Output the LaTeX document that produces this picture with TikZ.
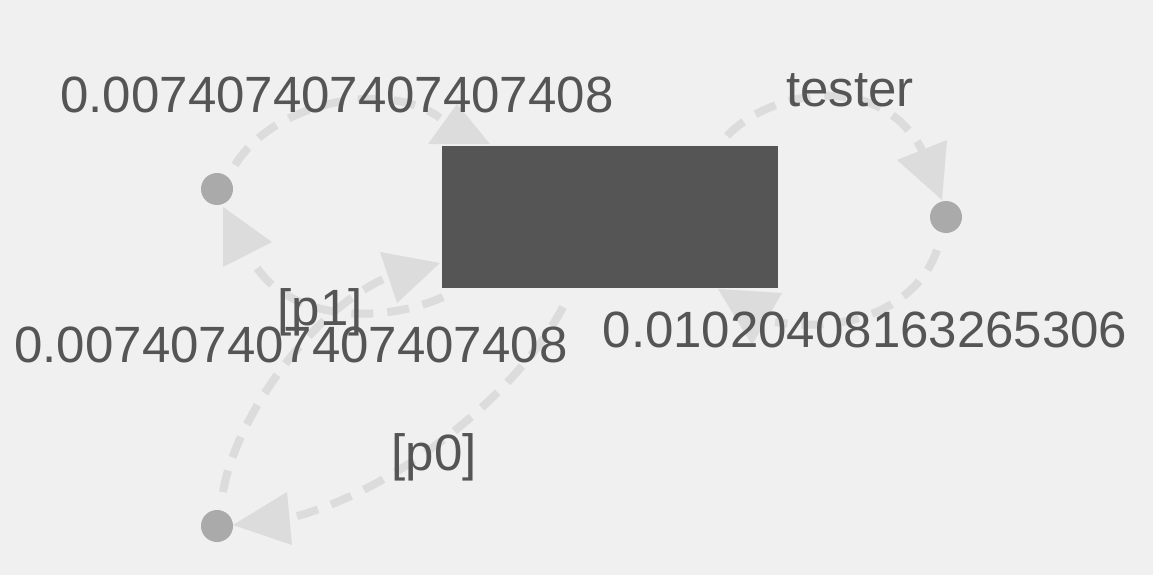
\documentclass[tikz,border=0pt]{standalone}
\usepackage{fontspec}
\setmainfont{Liberation Sans}
\definecolor{bgc}{HTML}{F0F0F0}
\definecolor{edgec}{HTML}{DCDCDC}
\definecolor{nodec}{HTML}{AAAAAA}
\definecolor{boxc}{HTML}{555555}
\definecolor{txtc}{HTML}{555555}
\pgfdeclarelayer{back}
\pgfdeclarelayer{edges}
\pgfsetlayers{back,edges,main}
\begin{document}
\begin{tikzpicture}[x=1pt,y=-1pt,
 edge/.style={draw=edgec,line width=8pt,dash pattern=on 22pt off 14pt},
 head/.style={fill=edgec},
 dot/.style={circle,fill=nodec,minimum size=32pt,inner sep=0pt},
 box/.style={rectangle,fill=boxc,minimum width=336pt,minimum height=142pt,inner sep=0pt},
 lbl/.style={text=txtc,font=\fontsize{51}{60}\selectfont,anchor=base,inner sep=0pt}]
\begin{pgfonlayer}{back}
\fill[bgc] (0,0) rectangle (1153,575);
\end{pgfonlayer}
\useasboundingbox (0,0) rectangle (1153,575);
% nodes
\node[box] (r) at (610,217) {};
\node[dot] (a) at (217,189) {};
\node[dot] (b) at (946,217) {};
\node[dot] (c) at (217,526) {};
% connector ends
\coordinate (s1) at (235,165); \coordinate (e1) at (440,118);
\coordinate (s2) at (727,136); \coordinate (e2) at (922,150);
\coordinate (s3) at (937,250); \coordinate (e3) at (775,322);
\coordinate (s4) at (443,297); \coordinate (e4) at (255,265);
\coordinate (s5) at (223,492); \coordinate (e5) at (388,277);
\coordinate (s6) at (563,307); \coordinate (e6) at (290,518);
\begin{pgfonlayer}{edges}
\draw[edge] (s1) .. controls (275,100) and (390,80) .. (e1);
\fill[head] (457,104) -- (428,144) -- (490,144) -- cycle;
\draw[edge] (s2) .. controls (770,90) and (880,70) .. (e2);
\fill[head] (897,160) -- (947,140) -- (942,200) -- cycle;
\draw[edge] (s3) .. controls (920,300) and (860,335) .. (e3);
\fill[head] (718,289) -- (782,293) -- (752,345) -- cycle;
\draw[edge] (s4) .. controls (380,325) and (290,320) .. (e4);
\fill[head] (223,207) -- (272,242) -- (223,267) -- cycle;
\draw[edge] (s5) .. controls (235,420) and (310,310) .. (e5);
\fill[head] (380,252) -- (440,263) -- (397,303) -- cycle;
\draw[edge] (s6) .. controls (520,390) and (400,490) .. (e6);
\fill[head] (233,525) -- (287,492) -- (292,545) -- cycle;
\end{pgfonlayer}
% labels
\node[lbl] (l1) at (337,113) {0.007407407407407408};
\node[lbl] (l2) at (850,107) {tester};
\node[lbl] (l3) at (865,347) {0.01020408163265306};
\node[lbl] (l4) at (320,325) {[p1]};
\node[lbl] (l5) at (291,362) {0.007407407407407408};
\node[lbl] (l6) at (434,470) {[p0]};
\end{tikzpicture}
\end{document}
